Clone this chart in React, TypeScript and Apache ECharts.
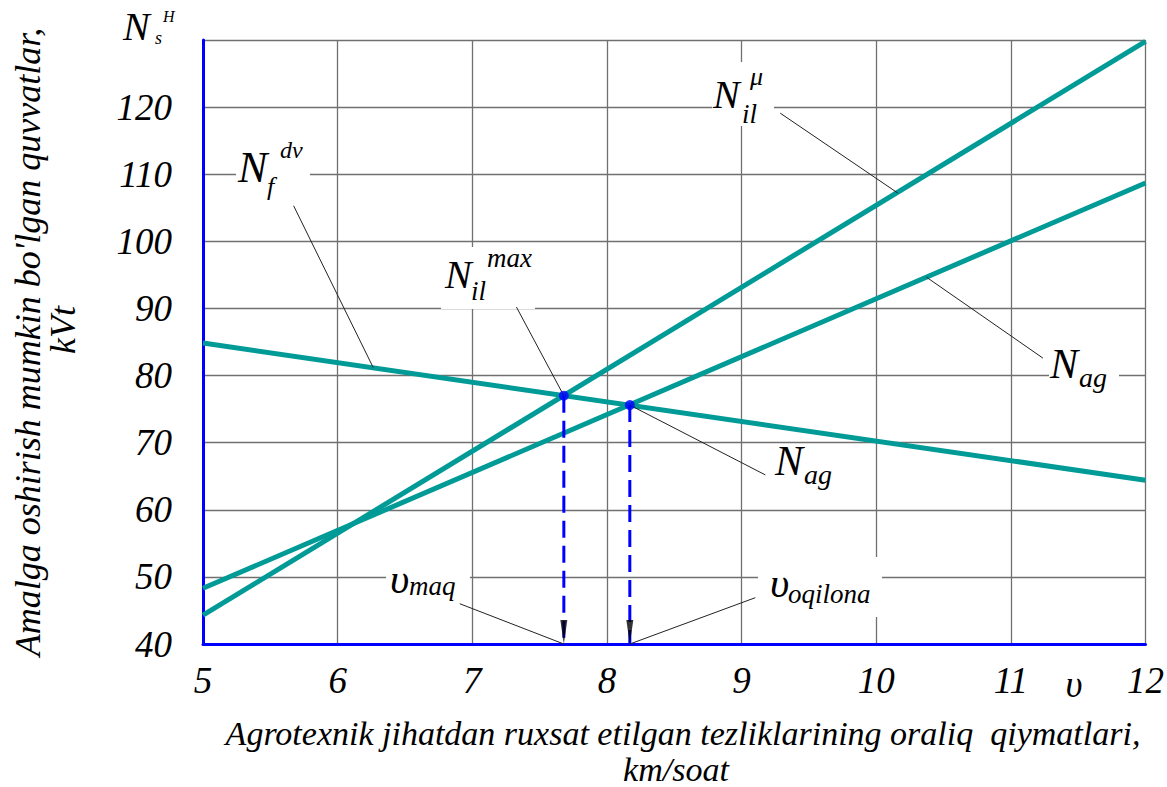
import React, { useEffect, useRef } from "react";
import * as echarts from "echarts";

// ---------- data ----------
const speedEnds = [5, 12]; // km/soat
const nIlMu = [44.3, 129.8]; // N_il^mu
const nAg = [48.3, 108.7]; // N_ag
const nFdv = [84.85, 64.4]; // N_f^dv
const opSpeeds = [7.68, 8.17]; // v_maq, v_oqilona
const opPowers = [77.0, 75.6]; // N_il^max, N_ag at optimum
const xAxisRange = { min: 5, max: 12, interval: 1 };
const yAxisRange = { min: 40, max: 130, interval: 10 };

// leader lines (label end -> curve end), in data coordinates
const leaderNfdv = [[5.673, 105.3], [6.264, 81.2]];
const leaderNilMu = [[9.287, 119.1], [10.16, 107.2]];
const leaderNilMax = [[7.328, 90.2], [7.68, 77.0]];
const leaderNagUp = [[11.238, 82.6], [10.373, 94.66]];
const leaderNagLow = [[8.17, 75.6], [9.176, 65.2]];
const leaderVmaq = [[6.907, 46.0], [7.68, 40]];
const leaderVoq = [[9.102, 46.9], [8.17, 40]];

const FONT = "Liberation Serif";
const TEAL = "#009a97";
const BLUE = "#0000ff";
const GRID = "#707070";

function txt(text: string, x: number, y: number, size: number, extra: any = {}) {
  const { align, ...rest } = extra;
  return {
    type: "text",
    x,
    y,
    z: 10,
    ...rest,
    style: {
      text,
      fontSize: size,
      fontFamily: FONT,
      fontStyle: "italic",
      fill: "#000",
      align: align || "left",
      verticalAlign: "middle",
    },
  };
}

function box(x: number, y: number, w: number, h: number) {
  return { type: "rect", z: 1, shape: { x, y, width: w, height: h }, style: { fill: "#fff" } };
}

export default function App() {
  const ref = useRef<HTMLDivElement>(null);

  useEffect(() => {
    if (!ref.current) return;
    const chart = echarts.init(ref.current, undefined, { renderer: "svg" });

    const pair = (xs: number[], ys: number[]) => xs.map((x, i) => [x, ys[i]]);
    const leaders = [leaderNfdv, leaderNilMu, leaderNilMax, leaderNagUp, leaderNagLow, leaderVmaq, leaderVoq];

    const series: any[] = [
      ...[nIlMu, nAg, nFdv].map((ys) => ({
        type: "line",
        data: pair(speedEnds, ys),
        showSymbol: false,
        symbol: "none",
        lineStyle: { color: TEAL, width: 5 },
        z: 2,
        silent: true,
      })),
      ...opSpeeds.map((x, i) => ({
        type: "line",
        data: [
          [x, opPowers[i]],
          [x, yAxisRange.min],
        ],
        symbol: "none",
        lineStyle: { color: BLUE, width: 3, type: [17, 8] },
        z: 3,
        silent: true,
      })),
      ...leaders.map((d) => ({
        type: "line",
        data: d,
        symbol: "none",
        lineStyle: { color: "#222", width: 1 },
        z: 3,
        silent: true,
      })),
      {
        type: "scatter",
        data: opSpeeds.map((x) => [x, yAxisRange.min]),
        symbol: "triangle",
        symbolRotate: 180,
        symbolSize: [7, 24],
        symbolOffset: [0, -12],
        itemStyle: { color: "#000" },
        z: 4,
        silent: true,
      },
      {
        type: "scatter",
        data: pair(opSpeeds, opPowers),
        symbol: "circle",
        symbolSize: 10,
        itemStyle: { color: BLUE },
        z: 5,
        silent: true,
      },
    ];

    const graphic: any[] = [
      // N_s^H
      txt("N", 123, 26.5, 40),
      txt("s", 155, 38, 18),
      txt("H", 163, 16, 16),
      // N_f^dv
      box(236, 140, 74, 62),
      txt("N", 238, 167, 44),
      txt("f", 267, 186, 26),
      txt("dv", 280, 150, 24),
      // N_il^max
      box(441, 247, 94, 62),
      txt("N", 445, 274.5, 40),
      txt("il", 471, 291, 27),
      txt("max", 487, 258, 27),
      // N_il^mu
      box(712, 62, 62, 64),
      txt("N", 713, 94.5, 40),
      txt("il", 742, 114, 27),
      txt("μ", 750, 76, 26),
      // N_ag upper
      box(1049, 344, 70, 56),
      txt("N", 1050, 364, 42),
      txt("ag", 1079, 377, 28),
      // N_ag lower
      box(776, 444, 68, 52),
      txt("N", 775, 461, 42),
      txt("ag", 804, 474, 28),
      // v_maq
      box(386, 562, 84, 46),
      txt("υ", 390, 579, 42),
      txt("maq", 409, 586, 27),
      // v_oqilona
      box(758, 557, 124, 60),
      txt("υ", 770, 583, 42),
      txt("oqilona", 788, 594, 27),
      // axis symbol
      txt("υ", 1074, 684, 37, { align: "center" }),
      // x title
      txt("Agrotexnik jihatdan ruxsat etilgan tezliklarining oraliq  qiymatlari,", 683, 733, 34, { align: "center" }),
      txt("km/soat", 676, 769.5, 34, { align: "center" }),
      // y title
      txt("Amalga oshirish mumkin bo'lgan quvvatlar,", 28, 342, 36, { align: "center", rotation: Math.PI / 2 }),
      txt("kVt", 63, 330, 36, { align: "center", rotation: Math.PI / 2 }),
    ];

    const labelStyle = {
      fontFamily: FONT,
      fontStyle: "italic",
      fontSize: 37,
      color: "#000",
    };

    chart.setOption({
      animation: false,
      textStyle: { fontFamily: FONT },
      grid: { left: 203, right: 17, top: 40, bottom: 143, containLabel: false },
      xAxis: {
        type: "value",
        ...xAxisRange,
        axisLine: { show: true, onZero: false, lineStyle: { color: BLUE, width: 3 } },
        axisTick: { show: false },
        splitLine: { show: true, lineStyle: { color: GRID, width: 1.3 } },
        axisLabel: { ...labelStyle, margin: 18 },
      },
      yAxis: {
        type: "value",
        ...yAxisRange,
        axisLine: { show: true, onZero: false, lineStyle: { color: BLUE, width: 3 } },
        axisTick: { show: false },
        splitLine: { show: true, lineStyle: { color: GRID, width: 1.3 } },
        axisLabel: { ...labelStyle, margin: 31, showMaxLabel: false, padding: [0, 0, 22, 0] },
      },
      series,
      graphic,
    });

    return () => chart.dispose();
  }, []);

  return (
    <div
      ref={ref}
      style={{ position: "fixed", left: 0, top: 0, width: 1167, height: 787, background: "#fff" }}
    />
  );
}
